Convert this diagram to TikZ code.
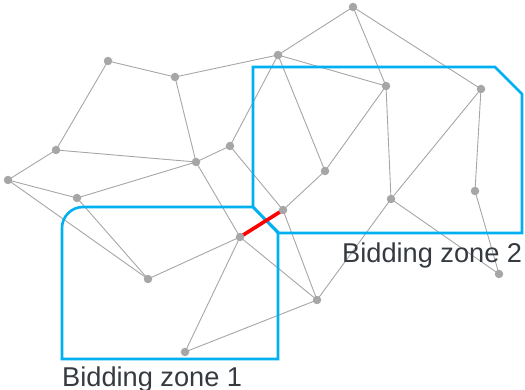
\documentclass[tikz,border=0pt]{standalone}
\usepackage{fontspec}
\setmainfont{Liberation Sans}
\definecolor{nodegray}{HTML}{A6A6A6}
\definecolor{zoneblue}{HTML}{00B0F0}
\definecolor{txtgray}{HTML}{343A40}
\begin{document}
\begin{tikzpicture}[x=1pt,y=-1pt,
  vtx/.style={circle,fill=nodegray,inner sep=0pt,minimum size=8.5pt},
  edge/.style={draw=nodegray,line width=0.9pt},
  zone/.style={draw=zoneblue,line width=2.6pt,line join=miter},
  tie/.style={draw=red,line width=3.6pt},
  lbl/.style={anchor=base west,inner sep=0pt,text=txtgray,font=\fontsize{27.2}{30}\selectfont}]
\useasboundingbox (0,0) rectangle (525,390);
% vertices (coordinates)
\coordinate (A) at (108,61);
\coordinate (B) at (175,77);
\coordinate (C) at (56,150);
\coordinate (D) at (8,180);
\coordinate (E) at (77,198);
\coordinate (F) at (196,162);
\coordinate (G) at (230,146);
\coordinate (H) at (353,7);
\coordinate (I) at (278,55);
\coordinate (J) at (386,86);
\coordinate (K) at (481,89);
\coordinate (L) at (325,171);
\coordinate (M) at (391,199);
\coordinate (N) at (475,191);
\coordinate (O) at (148,279);
\coordinate (P) at (240,237);
\coordinate (Q) at (185,352);
\coordinate (R) at (283,210);
\coordinate (S) at (317,300);
\coordinate (T) at (499,274);
% edges
\foreach \a/\b in {A/B,A/C,B/I,B/F,C/F,C/D,D/E,D/O,E/F,E/O,F/G,F/P,G/I,G/R,H/I,H/J,H/K,I/J,I/L,J/L,J/M,K/M,K/N,L/R,R/S,M/S,M/T,N/T,P/S,Q/S,P/Q,O/P}
  \draw[edge] (\a) -- (\b);
% zones
\draw[zone] (253,67) -- (495,67) -- (522,94) -- (522,233) -- (278,233) -- (253,207) -- cycle;
\draw[zone] (278,232) -- (278,359) -- (62,359) -- (62,228) arc[start angle=180,end angle=270,radius=21] -- (253,207) -- cycle;
% tie line
\draw[tie] (P) -- (R);
% vertex dots
\foreach \v in {A,B,C,D,E,F,G,H,I,J,K,L,M,N,O,P,Q,R,S,T}
  \node[vtx] (n\v) at (\v) {};
% labels
\node[lbl] (z1) at (62,386) {Bidding zone 1};
\node[lbl] (z2) at (342,263) {Bidding zone 2};
\end{tikzpicture}
\end{document}
